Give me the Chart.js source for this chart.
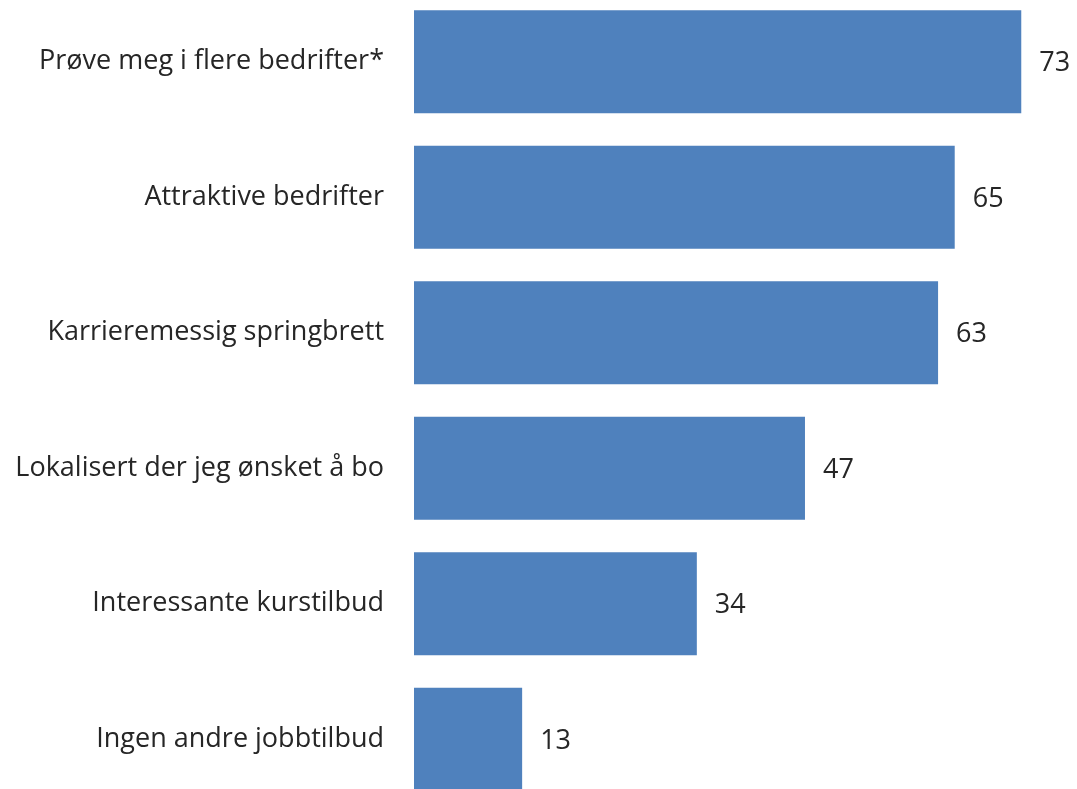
<!DOCTYPE html>
<html>
<head>
<meta charset="utf-8">
<script src="https://cdn.jsdelivr.net/npm/chart.js@4/dist/chart.umd.min.js"></script>
<style>
  html, body { margin: 0; padding: 0; background: #fff; overflow: hidden; }
  #wrap { position: absolute; left: 0; top: -6px; width: 1077px; height: 813px; }
</style>
</head>
<body>
<div id="wrap"><canvas id="barChart"></canvas></div>
<script>
const categories = [
  "Prøve meg i flere bedrifter*",
  "Attraktive bedrifter",
  "Karrieremessig springbrett",
  "Lokalisert der jeg ønsket å bo",
  "Interessante kurstilbud",
  "Ingen andre jobbtilbud"
];
const values = [73, 65, 63, 47, 34, 13];

const fontFamily = "'Open Sans', sans-serif";
const textColor = "#262626";

// writes the number just past the end of each bar
const valueLabels = {
  id: "valueLabels",
  afterDatasetsDraw(chart) {
    const ctx = chart.ctx;
    const meta = chart.getDatasetMeta(0);
    ctx.save();
    ctx.font = "27px " + fontFamily;
    ctx.fillStyle = textColor;
    ctx.textAlign = "left";
    ctx.textBaseline = "middle";
    meta.data.forEach((bar, i) => {
      ctx.fillText(String(values[i]), bar.x + 18, bar.y + 2);
    });
    ctx.restore();
  }
};

const ctx = document.getElementById("barChart").getContext("2d");
new Chart(ctx, {
  type: "bar",
  data: {
    labels: categories,
    datasets: [
      {
        data: values,
        backgroundColor: "#4f81bd",
        borderWidth: 0,
        barPercentage: 0.76,
        categoryPercentage: 1,
      },
    ],
  },
  options: {
    indexAxis: "y",
    responsive: true,
    maintainAspectRatio: false,
    animation: false,
    layout: { padding: 0 },
    plugins: {
      legend: { display: false },
      tooltip: { enabled: false },
    },
    scales: {
      x: {
        display: false,
        min: 0,
        max: 79.7,
      },
      y: {
        grid: { display: false, drawTicks: false },
        border: { display: false },
        ticks: {
          color: textColor,
          font: { family: fontFamily, size: 27 },
          padding: 30,
        },
        afterFit(scale) {
          scale.width = 414;
          scale.paddingTop = 0;
          scale.paddingBottom = 0;
        },
      },
    },
  },
  plugins: [valueLabels],
});
</script>
</body>
</html>
